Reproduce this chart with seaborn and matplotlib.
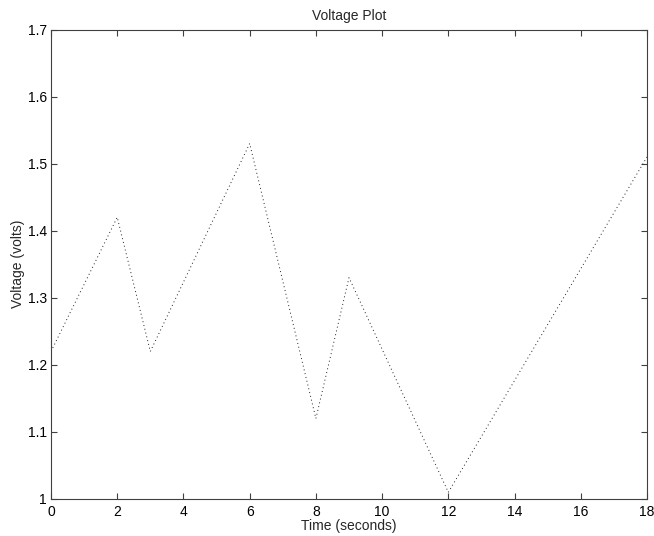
import matplotlib
matplotlib.use("Agg")
import matplotlib.pyplot as plt
import seaborn as sns
import pandas as pd

time_s = [0, 2, 3, 6, 8, 9, 12, 18]
voltage = [1.22, 1.42, 1.22, 1.53, 1.12, 1.33, 1.01, 1.51]
x_ticks = [0, 2, 4, 6, 8, 10, 12, 14, 16, 18]
y_ticks = [1.0, 1.1, 1.2, 1.3, 1.4, 1.5, 1.6, 1.7]
y_tick_labels = ["1", "1.1", "1.2", "1.3", "1.4", "1.5", "1.6", "1.7"]

sns.set_style("ticks")
plt.rcParams['font.family'] = ['Liberation Sans', 'DejaVu Sans']

df = pd.DataFrame({"time": time_s, "voltage": voltage})

fig = plt.figure(figsize=(6.54, 5.36), dpi=100)
ax = fig.add_axes([51 / 654, 37 / 536, 596 / 654, 469.5 / 536])

sns.lineplot(data=df, x="time", y="voltage", ax=ax, color="#202020",
             linewidth=0.7, linestyle=(0, (1, 3)), sort=False)

ax.set_xlim(0, 18)
ax.set_ylim(1.0, 1.7)
ax.set_xticks(x_ticks)
ax.set_xticklabels([str(t) for t in x_ticks])
ax.set_yticks(y_ticks)
ax.set_yticklabels(y_tick_labels)

for side in ["top", "right", "bottom", "left"]:
    ax.spines[side].set_visible(True)
    ax.spines[side].set_color("#404040")
    ax.spines[side].set_linewidth(0.8)

ax.tick_params(direction="in", length=4.5, width=0.8, color="#404040",
               top=True, right=True, labelsize=10, labelcolor="black")
ax.tick_params(axis="x", pad=4)
ax.tick_params(axis="y", pad=3)

ax.set_title("Voltage Plot", fontsize=10, pad=7)
ax.set_xlabel("Time (seconds)", fontsize=10, labelpad=0.5)
ax.set_ylabel("Voltage (volts)", fontsize=10, labelpad=2)

fig.savefig("out.png", dpi=100)
